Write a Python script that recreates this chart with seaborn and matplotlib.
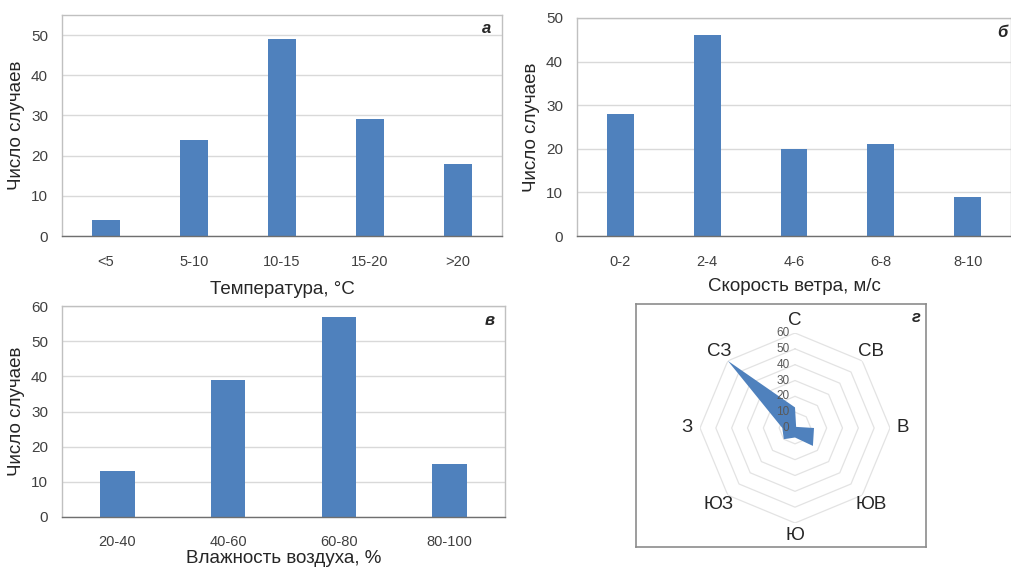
import numpy as np
import pandas as pd
import matplotlib
matplotlib.use("Agg")
import matplotlib.pyplot as plt
import seaborn as sns

# ---- data ----
temp_cats = ["<5", "5-10", "10-15", "15-20", ">20"]
temp_vals = [4, 24, 49, 29, 18]
wind_cats = ["0-2", "2-4", "4-6", "6-8", "8-10"]
wind_vals = [28, 46, 20, 21, 9]
hum_cats = ["20-40", "40-60", "60-80", "80-100"]
hum_vals = [13, 39, 57, 15]
dir_labels = ["С", "СВ", "В", "ЮВ", "Ю", "ЮЗ", "З", "СЗ"]
dir_vals = [13, 1, 12, 16, 6, 10, 8, 60]
radar_ticks = [0, 10, 20, 30, 40, 50, 60]

sns.set_theme(style="white")
plt.rcParams['font.family'] = ['Liberation Sans', 'DejaVu Sans']

W, H = 1011, 570
fig = plt.figure(figsize=(W / 100, H / 100), dpi=100)


def ax_px(l, t, r, b, **kw):
    return fig.add_axes([l / W, 1 - b / H, (r - l) / W, (b - t) / H], **kw)


BAR = "#4F81BD"
TXT = "#404040"


def bar_panel(ax, cats, vals, ymax, ytop, xlabel, letter, letter_pos,
              xpad, xlabelpad, ylabel_x):
    df = pd.DataFrame({"cat": cats, "val": vals})
    sns.barplot(data=df, x="cat", y="val", color=BAR, width=0.31,
                saturation=1, ax=ax, linewidth=0)
    ax.set_xlim(-0.5, len(cats) - 0.5)
    ax.set_ylim(0, ytop)
    ax.set_yticks(np.arange(0, ymax + 1, 10))
    ax.yaxis.grid(True, color="#D9D9D9", lw=1)
    ax.set_axisbelow(True)
    for s in ["left", "top", "right"]:
        ax.spines[s].set_color("#C0C0C0")
        ax.spines[s].set_linewidth(1)
    ax.spines["bottom"].set_color("#6F6F6F")
    ax.spines["bottom"].set_linewidth(1)
    ax.set_xticks(np.arange(len(cats)))
    ax.set_xticks(np.arange(-0.5, len(cats)), minor=True)
    ax.tick_params(axis="x", which="major", length=0, pad=xpad,
                   labelsize=10.5, labelcolor=TXT)
    ax.tick_params(axis="x", which="minor", length=5, width=1,
                   color="#6F6F6F", direction="out")
    ax.tick_params(axis="y", length=0, pad=10, labelsize=11, labelcolor=TXT)
    ax.set_xlabel(xlabel, fontsize=13.5, color="#262626", labelpad=xlabelpad)
    ax.set_ylabel("Число случаев", fontsize=13.5, color="#262626")
    ax.yaxis.set_label_coords(ylabel_x, 0.5)
    ax.text(letter_pos[0], letter_pos[1], letter, transform=ax.transAxes,
            fontsize=12, fontstyle="italic", fontweight="bold",
            color="#262626", ha="center", va="center")


# panel а
ax1 = ax_px(62, 15, 502, 236)
bar_panel(ax1, temp_cats, temp_vals, 50, 55, "Температура, °C", "а",
          (0.965, 0.94), 14, 8, -0.084)

# panel б
ax2 = ax_px(577, 18, 1011, 236)
bar_panel(ax2, wind_cats, wind_vals, 50, 50, "Скорость ветра, м/с", "б",
          (0.98, 0.935), 14, 6, -0.085)

# panel в
ax3 = ax_px(62, 306, 505, 517)
bar_panel(ax3, hum_cats, hum_vals, 60, 60, "Влажность воздуха, %", "в",
          (0.965, 0.93), 13, 0.5, -0.084)

# panel г (radar)
box = ax_px(636, 304, 926, 547)
box.set_xticks([])
box.set_yticks([])
for s in box.spines.values():
    s.set_color("#8C8C8C")
    s.set_linewidth(1.2)
box.text(0.965, 0.945, "г", transform=box.transAxes, fontsize=12,
         fontstyle="italic", fontweight="bold", color="#262626",
         ha="center", va="center")

cx, cy, R = 795, 428, 95
pax = ax_px(cx - R, cy - R, cx + R, cy + R, projection="polar")
pax.set_theta_zero_location("N")
pax.set_theta_direction(-1)
pax.set_ylim(0, 60)
pax.grid(False)
pax.spines["polar"].set_visible(False)
pax.set_xticks([])
pax.set_yticks([])
pax.patch.set_alpha(0)

theta = np.deg2rad(np.arange(len(dir_labels)) * 360 / len(dir_labels))
th_closed = np.append(theta, theta[0])
for r in radar_ticks[1:]:
    pax.plot(th_closed, [r] * len(th_closed), color="#E3E3E3", lw=0.9)
pax.fill(th_closed, dir_vals + [dir_vals[0]], color=BAR, lw=0, zorder=3)
for r in radar_ticks:
    pax.annotate(str(r), xy=(0, r), xytext=(-4, 0), textcoords="offset points",
                 ha="right", va="center", fontsize=8.5, color="#595959",
                 zorder=4)
for t, lab in zip(theta, dir_labels):
    pax.text(t, 68, lab, ha="center", va="center", fontsize=13.5,
             color="#262626", clip_on=False)

fig.savefig("out.png", dpi=100)
